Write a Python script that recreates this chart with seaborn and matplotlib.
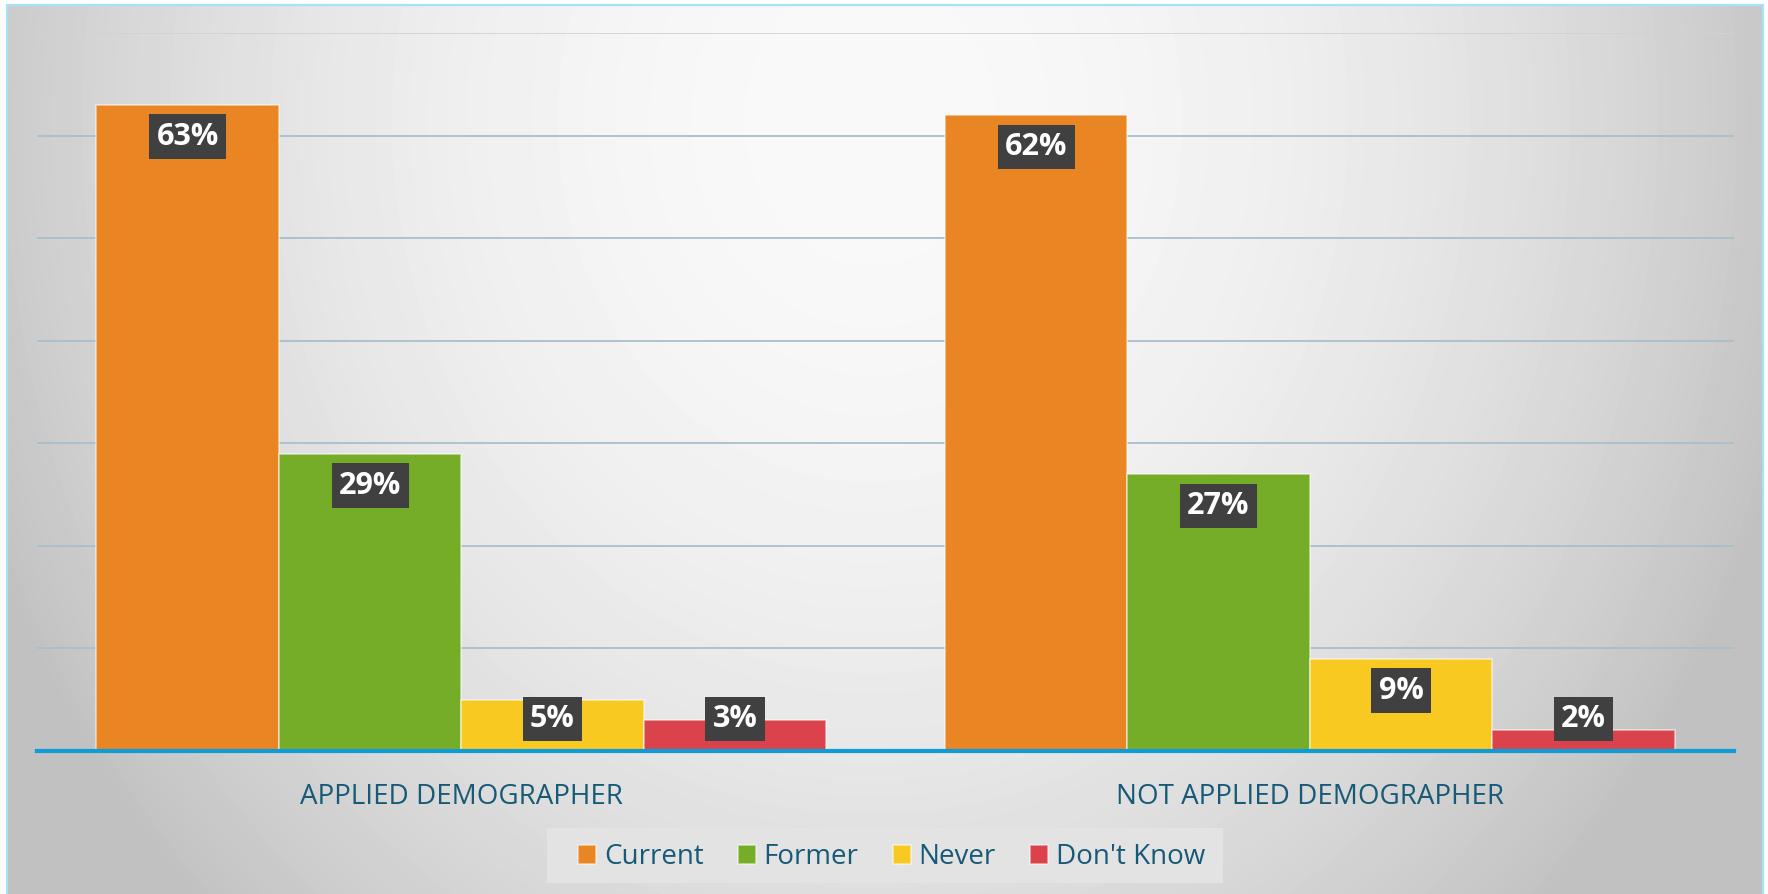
import numpy as np
import pandas as pd
import matplotlib
matplotlib.use("Agg")
import matplotlib.pyplot as plt
from matplotlib.patches import Rectangle
import seaborn as sns

# ---- data ----
groups = ["APPLIED DEMOGRAPHER", "NOT APPLIED DEMOGRAPHER"]
statuses = ["Current", "Former", "Never", "Don't Know"]
applied = [63, 29, 5, 3]
not_applied = [62, 27, 9, 2]
colors = ["#E98523", "#75AD29", "#F8C921", "#DA434B"]
y_max = 70
grid_ticks = [0, 10, 20, 30, 40, 50, 60, 70]

df = pd.DataFrame({
    "group": [groups[0]] * 4 + [groups[1]] * 4,
    "status": statuses * 2,
    "value": applied + not_applied,
})

W, H = 1768, 894
DPI = 100
sns.set_theme(style="white")
plt.rcParams["font.family"] = ["Open Sans", "DejaVu Sans"]

TEXT_COLOR = "#175A78"

fig = plt.figure(figsize=(W / DPI, H / DPI), dpi=DPI, facecolor="white")

# background radial gradient
bg = fig.add_axes([7 / W, 0, (1763 - 7) / W, (H - 5) / H], zorder=-10)
yy, xx = np.mgrid[5:H:1, 7:1763:1]
d2 = ((xx - 870) / 950) ** 2 + ((yy - 120) / 1100) ** 2
val = np.clip(249 - 55 * d2, 194, 249) / 255
bg.imshow(val, cmap="gray", vmin=0, vmax=1, aspect="auto", interpolation="bilinear")
bg.axis("off")

# outer border
fig.add_artist(Rectangle((7 / W, -0.02), (1763 - 7) / W, 1 - 5 / H + 0.02,
                         transform=fig.transFigure, fill=False,
                         ec="#A6E3F7", lw=1.6, zorder=10))

# legend background box
fig.add_artist(Rectangle((547 / W, 1 - 883 / H), (1223 - 547) / W, 55 / H,
                         transform=fig.transFigure, fc="#E3E3E3", ec="none", zorder=-5))

# main axes
ax = fig.add_axes([37 / W, 1 - 751 / H, (1734 - 37) / W, (751 - 33) / H])
ax.set_facecolor("none")

sns.barplot(data=df, x="group", y="value", hue="status", order=groups,
            hue_order=statuses, palette=colors, saturation=1, width=0.86,
            gap=0, edgecolor=(1, 1, 1, 0.55), linewidth=1.2, ax=ax, errorbar=None)

ax.set_ylim(0, y_max)
ax.set_xlim(-0.5, 1.5)
ax.set_yticks(grid_ticks)
ax.yaxis.grid(True, color="#A9BFCB", lw=1.3)
ax.xaxis.grid(False)
ax.set_axisbelow(True)
gl = ax.yaxis.get_gridlines()
gl[-1].set_color("#D2D2D2")
ax.tick_params(axis="y", length=0, labelleft=False)
ax.tick_params(axis="x", length=0, pad=23, labelsize=20, labelcolor=TEXT_COLOR)
ax.set_xlabel("")
ax.set_ylabel("")
for s in ["top", "left", "right"]:
    ax.spines[s].set_visible(False)
ax.spines["bottom"].set_color("#0E9CD8")
ax.spines["bottom"].set_linewidth(3)
ax.spines["bottom"].set_zorder(4)

# data labels
ppu = (751 - 33) / y_max  # pixels per unit
for cont in ax.containers:
    for bar in cont:
        h = bar.get_height()
        x = bar.get_x() + bar.get_width() / 2
        yc = max(h - 32 / ppu, 32 / ppu)
        ax.text(x, yc, f"{h:.0f}%", ha="center", va="center", color="white",
                fontsize=22, fontweight="bold",
                bbox=dict(boxstyle="square,pad=0.24", fc="#404040", ec="none"),
                zorder=6)

# legend
leg = ax.get_legend()
handles = leg.legend_handles
leg.remove()
fig.legend(handles, statuses, loc="center", bbox_to_anchor=(891.5 / W, 1 - 857.5 / H),
           ncol=4, frameon=False, fontsize=20, handlelength=0.65, handleheight=0.65,
           handletextpad=0.29, columnspacing=1.22, labelcolor=TEXT_COLOR,
           borderpad=0.2)

fig.savefig("out.png", dpi=DPI, facecolor="white")
